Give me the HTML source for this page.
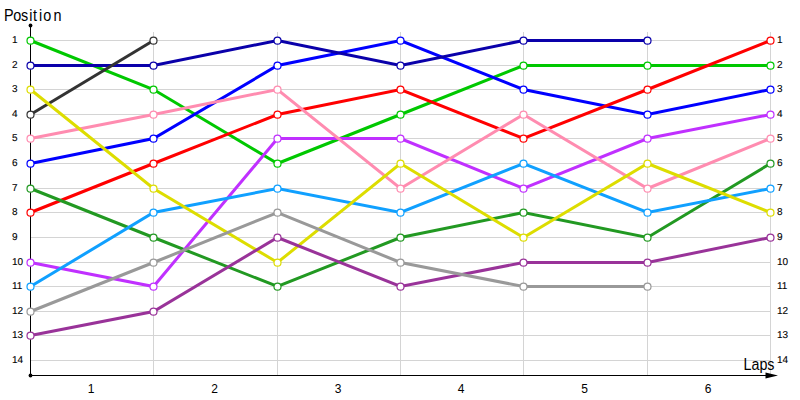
<!DOCTYPE html><html><head><meta charset="utf-8"><style>html,body{margin:0;padding:0;background:#fff;width:800px;height:400px;overflow:hidden}svg{display:block}text{font-family:"Liberation Sans",sans-serif;fill:#000}</style></head><body>
<svg width="800" height="400" viewBox="0 0 800 400">
<path d="M31 40.5H771 M31 65.5H771 M31 89.5H771 M31 114.5H771 M31 138.5H771 M31 163.5H771 M31 188.5H771 M31 212.5H771 M31 237.5H771 M31 262.5H771 M31 286.5H771 M31 311.5H771 M31 335.5H771 M31 360.5H771 M153.5 32V375 M277.5 32V375 M400.5 32V375 M523.5 32V375 M647.5 32V375 M770.5 32V375" stroke="#d4d4d4" stroke-width="1" fill="none" shape-rendering="crispEdges"/>
<path d="M30.5 25.5V375.5H766" stroke="#000" stroke-width="1" fill="none"/>
<circle cx="30.5" cy="25.5" r="1.9" fill="#000"/><circle cx="30.5" cy="375.5" r="1.9" fill="#000"/>
<path d="M765.5 372.5L778 375.5L765.5 378.5Z" fill="#000"/>
<text x="12" y="43" font-size="10" text-rendering="geometricPrecision" stroke="#000" stroke-width="0.12">1</text><text x="777" y="43" font-size="10" text-rendering="geometricPrecision" stroke="#000" stroke-width="0.12">1</text><text x="12" y="68" font-size="10" text-rendering="geometricPrecision" stroke="#000" stroke-width="0.12">2</text><text x="777" y="68" font-size="10" text-rendering="geometricPrecision" stroke="#000" stroke-width="0.12">2</text><text x="12" y="92" font-size="10" text-rendering="geometricPrecision" stroke="#000" stroke-width="0.12">3</text><text x="777" y="92" font-size="10" text-rendering="geometricPrecision" stroke="#000" stroke-width="0.12">3</text><text x="12" y="117" font-size="10" text-rendering="geometricPrecision" stroke="#000" stroke-width="0.12">4</text><text x="777" y="117" font-size="10" text-rendering="geometricPrecision" stroke="#000" stroke-width="0.12">4</text><text x="12" y="141" font-size="10" text-rendering="geometricPrecision" stroke="#000" stroke-width="0.12">5</text><text x="777" y="141" font-size="10" text-rendering="geometricPrecision" stroke="#000" stroke-width="0.12">5</text><text x="12" y="166" font-size="10" text-rendering="geometricPrecision" stroke="#000" stroke-width="0.12">6</text><text x="777" y="166" font-size="10" text-rendering="geometricPrecision" stroke="#000" stroke-width="0.12">6</text><text x="12" y="191" font-size="10" text-rendering="geometricPrecision" stroke="#000" stroke-width="0.12">7</text><text x="777" y="191" font-size="10" text-rendering="geometricPrecision" stroke="#000" stroke-width="0.12">7</text><text x="12" y="215" font-size="10" text-rendering="geometricPrecision" stroke="#000" stroke-width="0.12">8</text><text x="777" y="215" font-size="10" text-rendering="geometricPrecision" stroke="#000" stroke-width="0.12">8</text><text x="12" y="240" font-size="10" text-rendering="geometricPrecision" stroke="#000" stroke-width="0.12">9</text><text x="777" y="240" font-size="10" text-rendering="geometricPrecision" stroke="#000" stroke-width="0.12">9</text><text x="12" y="265" font-size="10" text-rendering="geometricPrecision" stroke="#000" stroke-width="0.12">10</text><text x="777" y="265" font-size="10" text-rendering="geometricPrecision" stroke="#000" stroke-width="0.12">10</text><text x="12" y="289" font-size="10" text-rendering="geometricPrecision" stroke="#000" stroke-width="0.12">11</text><text x="777" y="289" font-size="10" text-rendering="geometricPrecision" stroke="#000" stroke-width="0.12">11</text><text x="12" y="314" font-size="10" text-rendering="geometricPrecision" stroke="#000" stroke-width="0.12">12</text><text x="777" y="314" font-size="10" text-rendering="geometricPrecision" stroke="#000" stroke-width="0.12">12</text><text x="12" y="338" font-size="10" text-rendering="geometricPrecision" stroke="#000" stroke-width="0.12">13</text><text x="777" y="338" font-size="10" text-rendering="geometricPrecision" stroke="#000" stroke-width="0.12">13</text><text x="12" y="363" font-size="10" text-rendering="geometricPrecision" stroke="#000" stroke-width="0.12">14</text><text x="777" y="363" font-size="10" text-rendering="geometricPrecision" stroke="#000" stroke-width="0.12">14</text><text x="91.0" y="393" font-size="12" text-anchor="middle">1</text><text x="214.5" y="393" font-size="12" text-anchor="middle">2</text><text x="338.0" y="393" font-size="12" text-anchor="middle">3</text><text x="461.0" y="393" font-size="12" text-anchor="middle">4</text><text x="584.5" y="393" font-size="12" text-anchor="middle">5</text><text x="708.0" y="393" font-size="12" text-anchor="middle">6</text><text transform="translate(4,21) scale(0.9,1)" x="0 10.3 19 28 32.3 39 43.6 55" y="0" font-size="16">Position</text><text x="743.5" y="370" font-size="16" textLength="31" lengthAdjust="spacingAndGlyphs">Laps</text>
<path d="M30.5 40.5 L153.5 89.5 L277.5 163.5 L400.5 114.5 L523.5 65.5 L647.5 65.5 L770.5 65.5" stroke="#00c800" stroke-width="3" fill="none" stroke-linejoin="miter"/>
<path d="M30.5 163.5 L153.5 138.5 L277.5 65.5 L400.5 40.5 L523.5 89.5 L647.5 114.5 L770.5 89.5" stroke="#0000ff" stroke-width="3" fill="none" stroke-linejoin="miter"/>
<path d="M30.5 65.5 L153.5 65.5 L277.5 40.5 L400.5 65.5 L523.5 40.5 L647.5 40.5" stroke="#0a00aa" stroke-width="3" fill="none" stroke-linejoin="miter"/>
<path d="M30.5 114.5 L153.5 40.5" stroke="#333333" stroke-width="3" fill="none" stroke-linejoin="miter"/>
<path d="M30.5 212.5 L153.5 163.5 L277.5 114.5 L400.5 89.5 L523.5 138.5 L647.5 89.5 L770.5 40.5" stroke="#ff0000" stroke-width="3" fill="none" stroke-linejoin="miter"/>
<path d="M30.5 188.5 L153.5 237.5 L277.5 286.5 L400.5 237.5 L523.5 212.5 L647.5 237.5 L770.5 163.5" stroke="#229922" stroke-width="3" fill="none" stroke-linejoin="miter"/>
<path d="M30.5 262.5 L153.5 286.5 L277.5 138.5 L400.5 138.5 L523.5 188.5 L647.5 138.5 L770.5 114.5" stroke="#c030ff" stroke-width="3" fill="none" stroke-linejoin="miter"/>
<path d="M30.5 138.5 L153.5 114.5 L277.5 89.5 L400.5 188.5 L523.5 114.5 L647.5 188.5 L770.5 138.5" stroke="#ff8cb0" stroke-width="3" fill="none" stroke-linejoin="miter"/>
<path d="M30.5 286.5 L153.5 212.5 L277.5 188.5 L400.5 212.5 L523.5 163.5 L647.5 212.5 L770.5 188.5" stroke="#10a0ff" stroke-width="3" fill="none" stroke-linejoin="miter"/>
<path d="M30.5 89.5 L153.5 188.5 L277.5 262.5 L400.5 163.5 L523.5 237.5 L647.5 163.5 L770.5 212.5" stroke="#dddd00" stroke-width="3" fill="none" stroke-linejoin="miter"/>
<path d="M30.5 335.5 L153.5 311.5 L277.5 237.5 L400.5 286.5 L523.5 262.5 L647.5 262.5 L770.5 237.5" stroke="#993399" stroke-width="3" fill="none" stroke-linejoin="miter"/>
<path d="M30.5 311.5 L153.5 262.5 L277.5 212.5 L400.5 262.5 L523.5 286.5 L647.5 286.5" stroke="#999999" stroke-width="3" fill="none" stroke-linejoin="miter"/>
<circle cx="30.5" cy="40.7" r="3.5" fill="#fff" stroke="#00c800" stroke-width="1.2"/><circle cx="153.5" cy="89.7" r="3.5" fill="#fff" stroke="#00c800" stroke-width="1.2"/><circle cx="277.5" cy="163.7" r="3.5" fill="#fff" stroke="#00c800" stroke-width="1.2"/><circle cx="400.5" cy="114.7" r="3.5" fill="#fff" stroke="#00c800" stroke-width="1.2"/><circle cx="523.5" cy="65.7" r="3.5" fill="#fff" stroke="#00c800" stroke-width="1.2"/><circle cx="647.5" cy="65.7" r="3.5" fill="#fff" stroke="#00c800" stroke-width="1.2"/><circle cx="770.5" cy="65.7" r="3.5" fill="#fff" stroke="#00c800" stroke-width="1.2"/><circle cx="30.5" cy="163.7" r="3.5" fill="#fff" stroke="#0000ff" stroke-width="1.2"/><circle cx="153.5" cy="138.7" r="3.5" fill="#fff" stroke="#0000ff" stroke-width="1.2"/><circle cx="277.5" cy="65.7" r="3.5" fill="#fff" stroke="#0000ff" stroke-width="1.2"/><circle cx="400.5" cy="40.7" r="3.5" fill="#fff" stroke="#0000ff" stroke-width="1.2"/><circle cx="523.5" cy="89.7" r="3.5" fill="#fff" stroke="#0000ff" stroke-width="1.2"/><circle cx="647.5" cy="114.7" r="3.5" fill="#fff" stroke="#0000ff" stroke-width="1.2"/><circle cx="770.5" cy="89.7" r="3.5" fill="#fff" stroke="#0000ff" stroke-width="1.2"/><circle cx="30.5" cy="65.7" r="3.5" fill="#fff" stroke="#0a00aa" stroke-width="1.2"/><circle cx="153.5" cy="65.7" r="3.5" fill="#fff" stroke="#0a00aa" stroke-width="1.2"/><circle cx="277.5" cy="40.7" r="3.5" fill="#fff" stroke="#0a00aa" stroke-width="1.2"/><circle cx="400.5" cy="65.7" r="3.5" fill="#fff" stroke="#0a00aa" stroke-width="1.2"/><circle cx="523.5" cy="40.7" r="3.5" fill="#fff" stroke="#0a00aa" stroke-width="1.2"/><circle cx="647.5" cy="40.7" r="3.5" fill="#fff" stroke="#0a00aa" stroke-width="1.2"/><circle cx="30.5" cy="114.7" r="3.5" fill="#fff" stroke="#333333" stroke-width="1.2"/><circle cx="153.5" cy="40.7" r="3.5" fill="#fff" stroke="#333333" stroke-width="1.2"/><circle cx="30.5" cy="212.7" r="3.5" fill="#fff" stroke="#ff0000" stroke-width="1.2"/><circle cx="153.5" cy="163.7" r="3.5" fill="#fff" stroke="#ff0000" stroke-width="1.2"/><circle cx="277.5" cy="114.7" r="3.5" fill="#fff" stroke="#ff0000" stroke-width="1.2"/><circle cx="400.5" cy="89.7" r="3.5" fill="#fff" stroke="#ff0000" stroke-width="1.2"/><circle cx="523.5" cy="138.7" r="3.5" fill="#fff" stroke="#ff0000" stroke-width="1.2"/><circle cx="647.5" cy="89.7" r="3.5" fill="#fff" stroke="#ff0000" stroke-width="1.2"/><circle cx="770.5" cy="40.7" r="3.5" fill="#fff" stroke="#ff0000" stroke-width="1.2"/><circle cx="30.5" cy="188.7" r="3.5" fill="#fff" stroke="#229922" stroke-width="1.2"/><circle cx="153.5" cy="237.7" r="3.5" fill="#fff" stroke="#229922" stroke-width="1.2"/><circle cx="277.5" cy="286.7" r="3.5" fill="#fff" stroke="#229922" stroke-width="1.2"/><circle cx="400.5" cy="237.7" r="3.5" fill="#fff" stroke="#229922" stroke-width="1.2"/><circle cx="523.5" cy="212.7" r="3.5" fill="#fff" stroke="#229922" stroke-width="1.2"/><circle cx="647.5" cy="237.7" r="3.5" fill="#fff" stroke="#229922" stroke-width="1.2"/><circle cx="770.5" cy="163.7" r="3.5" fill="#fff" stroke="#229922" stroke-width="1.2"/><circle cx="30.5" cy="262.7" r="3.5" fill="#fff" stroke="#c030ff" stroke-width="1.2"/><circle cx="153.5" cy="286.7" r="3.5" fill="#fff" stroke="#c030ff" stroke-width="1.2"/><circle cx="277.5" cy="138.7" r="3.5" fill="#fff" stroke="#c030ff" stroke-width="1.2"/><circle cx="400.5" cy="138.7" r="3.5" fill="#fff" stroke="#c030ff" stroke-width="1.2"/><circle cx="523.5" cy="188.7" r="3.5" fill="#fff" stroke="#c030ff" stroke-width="1.2"/><circle cx="647.5" cy="138.7" r="3.5" fill="#fff" stroke="#c030ff" stroke-width="1.2"/><circle cx="770.5" cy="114.7" r="3.5" fill="#fff" stroke="#c030ff" stroke-width="1.2"/><circle cx="30.5" cy="138.7" r="3.5" fill="#fff" stroke="#ff8cb0" stroke-width="1.2"/><circle cx="153.5" cy="114.7" r="3.5" fill="#fff" stroke="#ff8cb0" stroke-width="1.2"/><circle cx="277.5" cy="89.7" r="3.5" fill="#fff" stroke="#ff8cb0" stroke-width="1.2"/><circle cx="400.5" cy="188.7" r="3.5" fill="#fff" stroke="#ff8cb0" stroke-width="1.2"/><circle cx="523.5" cy="114.7" r="3.5" fill="#fff" stroke="#ff8cb0" stroke-width="1.2"/><circle cx="647.5" cy="188.7" r="3.5" fill="#fff" stroke="#ff8cb0" stroke-width="1.2"/><circle cx="770.5" cy="138.7" r="3.5" fill="#fff" stroke="#ff8cb0" stroke-width="1.2"/><circle cx="30.5" cy="286.7" r="3.5" fill="#fff" stroke="#10a0ff" stroke-width="1.2"/><circle cx="153.5" cy="212.7" r="3.5" fill="#fff" stroke="#10a0ff" stroke-width="1.2"/><circle cx="277.5" cy="188.7" r="3.5" fill="#fff" stroke="#10a0ff" stroke-width="1.2"/><circle cx="400.5" cy="212.7" r="3.5" fill="#fff" stroke="#10a0ff" stroke-width="1.2"/><circle cx="523.5" cy="163.7" r="3.5" fill="#fff" stroke="#10a0ff" stroke-width="1.2"/><circle cx="647.5" cy="212.7" r="3.5" fill="#fff" stroke="#10a0ff" stroke-width="1.2"/><circle cx="770.5" cy="188.7" r="3.5" fill="#fff" stroke="#10a0ff" stroke-width="1.2"/><circle cx="30.5" cy="89.7" r="3.5" fill="#fff" stroke="#dddd00" stroke-width="1.2"/><circle cx="153.5" cy="188.7" r="3.5" fill="#fff" stroke="#dddd00" stroke-width="1.2"/><circle cx="277.5" cy="262.7" r="3.5" fill="#fff" stroke="#dddd00" stroke-width="1.2"/><circle cx="400.5" cy="163.7" r="3.5" fill="#fff" stroke="#dddd00" stroke-width="1.2"/><circle cx="523.5" cy="237.7" r="3.5" fill="#fff" stroke="#dddd00" stroke-width="1.2"/><circle cx="647.5" cy="163.7" r="3.5" fill="#fff" stroke="#dddd00" stroke-width="1.2"/><circle cx="770.5" cy="212.7" r="3.5" fill="#fff" stroke="#dddd00" stroke-width="1.2"/><circle cx="30.5" cy="335.7" r="3.5" fill="#fff" stroke="#993399" stroke-width="1.2"/><circle cx="153.5" cy="311.7" r="3.5" fill="#fff" stroke="#993399" stroke-width="1.2"/><circle cx="277.5" cy="237.7" r="3.5" fill="#fff" stroke="#993399" stroke-width="1.2"/><circle cx="400.5" cy="286.7" r="3.5" fill="#fff" stroke="#993399" stroke-width="1.2"/><circle cx="523.5" cy="262.7" r="3.5" fill="#fff" stroke="#993399" stroke-width="1.2"/><circle cx="647.5" cy="262.7" r="3.5" fill="#fff" stroke="#993399" stroke-width="1.2"/><circle cx="770.5" cy="237.7" r="3.5" fill="#fff" stroke="#993399" stroke-width="1.2"/><circle cx="30.5" cy="311.7" r="3.5" fill="#fff" stroke="#999999" stroke-width="1.2"/><circle cx="153.5" cy="262.7" r="3.5" fill="#fff" stroke="#999999" stroke-width="1.2"/><circle cx="277.5" cy="212.7" r="3.5" fill="#fff" stroke="#999999" stroke-width="1.2"/><circle cx="400.5" cy="262.7" r="3.5" fill="#fff" stroke="#999999" stroke-width="1.2"/><circle cx="523.5" cy="286.7" r="3.5" fill="#fff" stroke="#999999" stroke-width="1.2"/><circle cx="647.5" cy="286.7" r="3.5" fill="#fff" stroke="#999999" stroke-width="1.2"/>
</svg></body></html>
